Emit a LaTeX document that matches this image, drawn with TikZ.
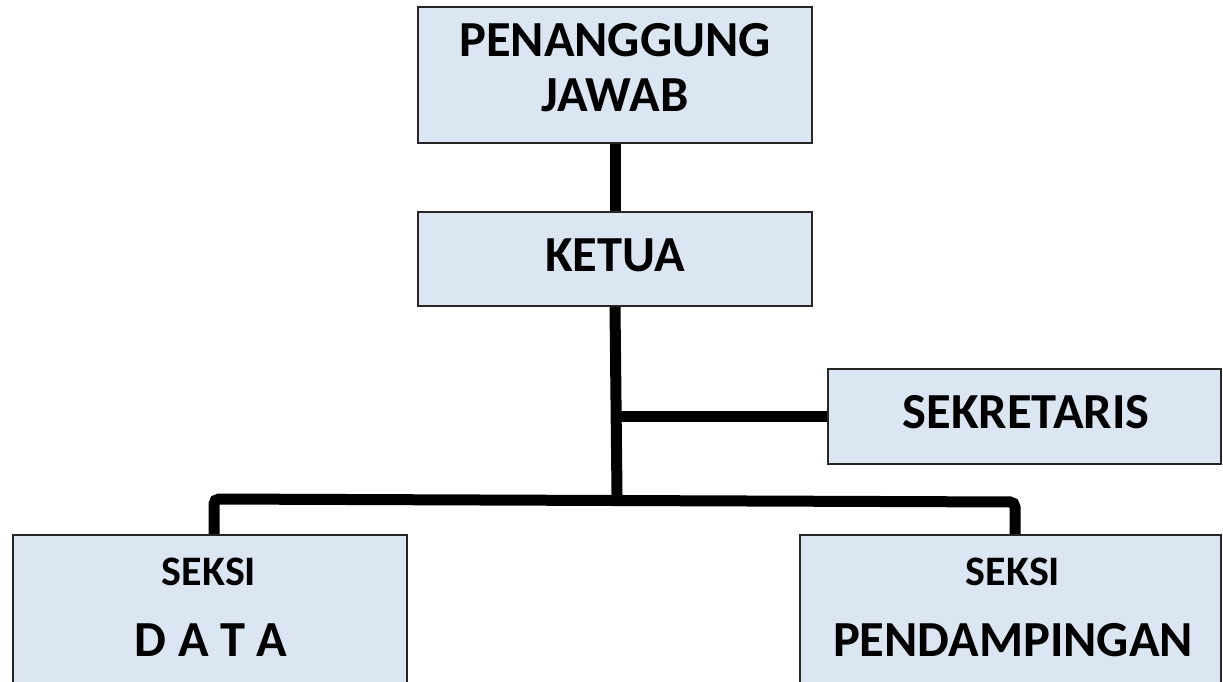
\documentclass[tikz,border=0pt]{standalone}
\usepackage{fontspec}
\setmainfont{Carlito}
\definecolor{boxblue}{HTML}{DCE6F2}
\begin{document}
\begin{tikzpicture}[x=1pt,y=-1pt,
  box/.style={draw=black!85, line width=1.6pt, fill=boxblue, inner sep=0pt},
  conn/.style={line width=11pt, draw=black},
  big/.style={font=\bfseries\fontsize{50.5}{55}\selectfont, align=center, inner sep=0pt},
  small/.style={font=\bfseries\fontsize{42}{46}\selectfont, inner sep=0pt}]
\useasboundingbox (0,0) rectangle (1223,682);
\begin{scope}
\clip (0,0) rectangle (1223,682);
% boxes
\node[box, minimum width=394pt, minimum height=136pt] (pj) at (615,75) {};
\node[box, minimum width=394pt, minimum height=94pt] (ketua) at (615,259) {};
\node[box, minimum width=393pt, minimum height=95pt] (sek) at (1024.5,416.5) {};
\node[box, minimum width=394pt, minimum height=180pt] (data) at (210,625) {};
\node[box, minimum width=421pt, minimum height=180pt] (pend) at (1010.5,625) {};
% texts
\node[big] (tpj) at (615,68) {PENANGGUNG\\JAWAB};
\node[big] (tketua) at (615,255) {KETUA};
\node[big] (tsek) at (1026,412) {SEKRETARIS};
\node[small] (tdata1) at (209,572) {SEKSI};
\node[big] (tdata2) at (211,640) {D A T A};
\node[small] (tpend1) at (1013,572) {SEKSI};
\node[big] (tpend2) at (1013,640) {PENDAMPINGAN};
% connectors
\coordinate (bl) at (214,499);
\coordinate (br) at (1015,502);
\coordinate (jn) at (617,500);
\draw[conn] (pj.south) -- (ketua.north);
\draw[conn] (ketua.south) -- ([yshift=5pt]jn);
\draw[conn] (ketua.south |- sek.west) -- (sek.west);
\draw[conn, rounded corners=5pt] (bl |- data.north) -- (bl) -- (br) -- (br |- pend.north);
\end{scope}
\end{tikzpicture}
\end{document}
